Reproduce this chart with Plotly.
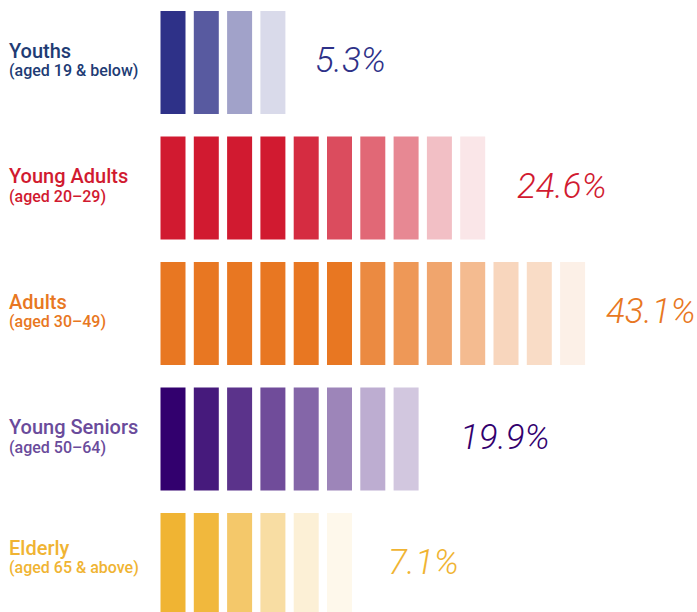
import plotly.graph_objects as go

# ---- data ----
groups = ["Youths", "Young Adults", "Adults", "Young Seniors", "Elderly"]
age_ranges = ["(aged 19 & below)", "(aged 20–29)", "(aged 30–49)", "(aged 50–64)", "(aged 65 & above)"]
shares = [5.3, 24.6, 43.1, 19.9, 7.1]
bar_counts = [4, 10, 13, 8, 6]

# ---- style ----
base_colors = ["#2E3188", "#D11A30", "#E87722", "#32006E", "#F0B433"]
label_colors = ["#213B74", "#D11A30", "#E87722", "#6A4B9B", "#F0B433"]
pct_colors = ["#2E3188", "#D11A30", "#E87722", "#32006E", "#F0B433"]
opacities = [
    [1.0, 0.80, 0.45, 0.18],
    [1.0, 1.0, 1.0, 1.0, 0.92, 0.78, 0.66, 0.52, 0.28, 0.11],
    [1.0, 1.0, 1.0, 1.0, 1.0, 1.0, 0.86, 0.76, 0.66, 0.50, 0.30, 0.26, 0.11],
    [1.0, 0.9, 0.8, 0.7, 0.6, 0.48, 0.32, 0.22],
    [1.0, 0.95, 0.73, 0.45, 0.2, 0.1],
]
pct_gap_px = [30, 32, 21, 41, 36]
label_lift_px = [0, 0, 0, 0, 5]


def solid(hex_color, a):
    h = hex_color.lstrip("#")
    r, g, b = int(h[0:2], 16), int(h[2:4], 16), int(h[4:6], 16)
    r2 = round(255 - (255 - r) * a)
    g2 = round(255 - (255 - g) * a)
    b2 = round(255 - (255 - b) * a)
    return f"rgb({r2},{g2},{b2})"


W, H = 697, 612
pitch_px = 33.3
first_center_px = 173.0
row_pitch_px = 125.5
first_row_center_px = 62.5
bar_h = 103 / row_pitch_px
bar_w = 25 / pitch_px

x0 = -first_center_px / pitch_px
x1 = x0 + W / pitch_px
y_top = -first_row_center_px / row_pitch_px
y_bot = y_top + H / row_pitch_px

fig = go.Figure()
annotations = []
for i, (g, a, s, n) in enumerate(zip(groups, age_ranges, shares, bar_counts)):
    xs = list(range(n))
    fig.add_trace(go.Bar(
        x=xs,
        y=[bar_h] * n,
        base=[i - bar_h / 2] * n,
        width=bar_w,
        marker=dict(color=[solid(base_colors[i], o) for o in opacities[i]], line=dict(width=0)),
        hoverinfo="skip",
        showlegend=False,
    ))
    annotations.append(dict(
        x=7 / W, xref="paper", y=i, yref="y", xanchor="left", yanchor="middle",
        yshift=12 + label_lift_px[i], text=g, showarrow=False,
        font=dict(family="Roboto", size=20, color=label_colors[i], weight=500),
    ))
    annotations.append(dict(
        x=7 / W, xref="paper", y=i, yref="y", xanchor="left", yanchor="middle",
        yshift=-8 + label_lift_px[i], text=a, showarrow=False,
        font=dict(family="Roboto", size=16, color=label_colors[i], weight=500),
    ))
    annotations.append(dict(
        x=n - 1 + bar_w / 2, xref="x", y=i, yref="y", xanchor="left", yanchor="middle",
        xshift=pct_gap_px[i] - 2, yshift=2, text=f"{s}%", showarrow=False,
        font=dict(family="Roboto", size=35, color=pct_colors[i], style="italic", weight=300),
    ))

fig.update_layout(
    width=W, height=H,
    margin=dict(l=0, r=0, t=0, b=0),
    paper_bgcolor="white", plot_bgcolor="white",
    barmode="overlay",
    xaxis=dict(range=[x0, x1], visible=False, fixedrange=True),
    yaxis=dict(range=[y_bot, y_top], visible=False, fixedrange=True),
    annotations=annotations,
)

fig.write_html(
    "out.html",
    config={"displayModeBar": False},
    post_script="document.body.style.margin='0';document.body.style.overflow='hidden';",
)
